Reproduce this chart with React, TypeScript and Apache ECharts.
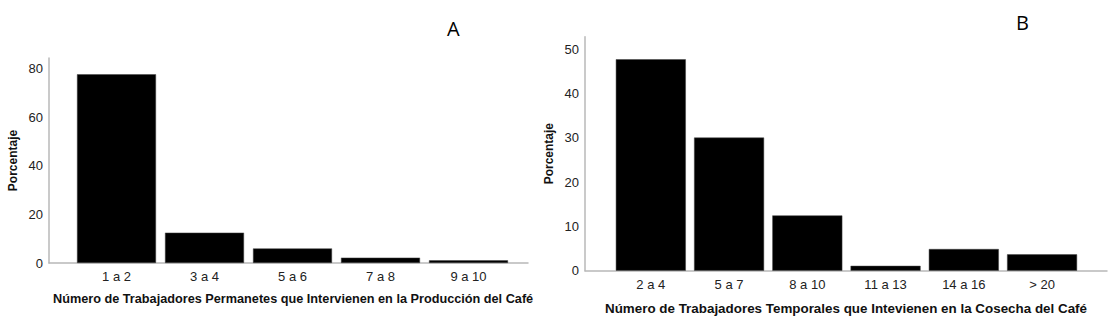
import React, { useEffect, useRef } from "react";
import * as echarts from "echarts";

const catsA = ["1 a 2", "3 a 4", "5 a 6", "7 a 8", "9 a 10"];
const valsA = [77.8, 12.5, 6.0, 2.2, 1.1];
const catsB = ["2 a 4", "5 a 7", "8 a 10", "11 a 13", "14 a 16", "> 20"];
const valsB = [47.8, 30.1, 12.5, 1.1, 4.9, 3.7];
const titleA = "Número de Trabajadores Permanetes que Intervienen en la Producción del Café";
const titleB = "Número de Trabajadores Temporales que Intevienen en la Cosecha del Café";
const yName = "Porcentaje";

const FONT = "'Liberation Sans', Arial, sans-serif";
const AXIS_GRAY = "#b8b8b8";

export default function App() {
  const ref = useRef<HTMLDivElement>(null);
  useEffect(() => {
    if (!ref.current) return;
    const chart = echarts.init(ref.current, undefined, { renderer: "svg" });
    const axisX = (gridIndex: number, name: string, gap: number) => ({
      type: "value",
      gridIndex,
      min: 0,
      max: 1,
      name,
      nameLocation: "middle",
      nameGap: gap,
      nameTextStyle: { fontFamily: FONT, fontWeight: "bold", fontSize: 13.4, color: "#111" },
      axisLine: { show: true, lineStyle: { color: AXIS_GRAY, width: 1.5 } },
      axisTick: { show: false },
      axisLabel: { show: false },
      splitLine: { show: false },
    });
    const catX = (gridIndex: number, data: string[]) => ({
      type: "category",
      gridIndex,
      data,
      axisLine: { show: false },
      axisTick: { show: false },
      axisLabel: { fontFamily: FONT, fontSize: 13, color: "#222", margin: 7 },
    });
    const visY = (gridIndex: number, max: number, interval: number) => ({
      type: "value",
      gridIndex,
      min: 0,
      max,
      interval,
      name: yName,
      nameLocation: "middle",
      nameGap: 30,
      nameTextStyle: { fontFamily: FONT, fontWeight: "bold", fontSize: 12, color: "#111" },
      axisLine: { show: true, lineStyle: { color: AXIS_GRAY, width: 1.5 } },
      axisTick: { show: false },
      splitLine: { show: false },
      axisLabel: {
        fontFamily: FONT,
        fontSize: 13,
        color: "#222",
        margin: 6,
        formatter: (v: number) => (Math.abs(v % interval) < 1e-6 ? String(v) : ""),
      },
    });
    const hidY = (gridIndex: number, max: number) => ({
      type: "value",
      gridIndex,
      min: 0,
      max,
      show: false,
      splitLine: { show: false },
    });
    chart.setOption({
      animation: false,
      title: [
        { text: "A", left: 442, top: 13, textStyle: { fontFamily: "'Open Sans', sans-serif", fontWeight: "normal", fontSize: 20, color: "#000" } },
        { text: "B", left: 1011, top: 7, textStyle: { fontFamily: "'Open Sans', sans-serif", fontWeight: "normal", fontSize: 20, color: "#000" } },
      ],
      grid: [
        { left: 49, top: 58, width: 479, height: 205 },
        { left: 72.5, top: 58, width: 440, height: 205 },
        { left: 585, top: 36.7, width: 522, height: 234 },
        { left: 611.7, top: 36.7, width: 469.5, height: 234 },
      ],
      xAxis: [
        axisX(0, "", 30),
        catX(1, catsA),
        axisX(2, titleB, 31),
        catX(3, catsB),
      ],
      yAxis: [visY(0, 84.5, 20), hidY(1, 84.5), visY(2, 52.9, 10), hidY(3, 52.9)],
      graphic: [
        {
          type: "text",
          left: 53,
          top: 292,
          z: 10,
          style: { text: titleA, font: `bold 12.7px ${FONT}`, fill: "#111" },
        },
      ],
      series: [
        {
          type: "bar",
          xAxisIndex: 1,
          yAxisIndex: 1,
          data: valsA,
          barWidth: 79,
          itemStyle: { color: "#000", borderColor: "#444", borderWidth: 0.5 },
        },
        {
          type: "bar",
          xAxisIndex: 3,
          yAxisIndex: 3,
          data: valsB,
          barWidth: 70,
          itemStyle: { color: "#000", borderColor: "#444", borderWidth: 0.5 },
        },
      ],
    });
    return () => chart.dispose();
  }, []);
  return (
    <div
      ref={ref}
      style={{ position: "fixed", left: 0, top: 0, width: 1110, height: 321, background: "#fff" }}
    />
  );
}
